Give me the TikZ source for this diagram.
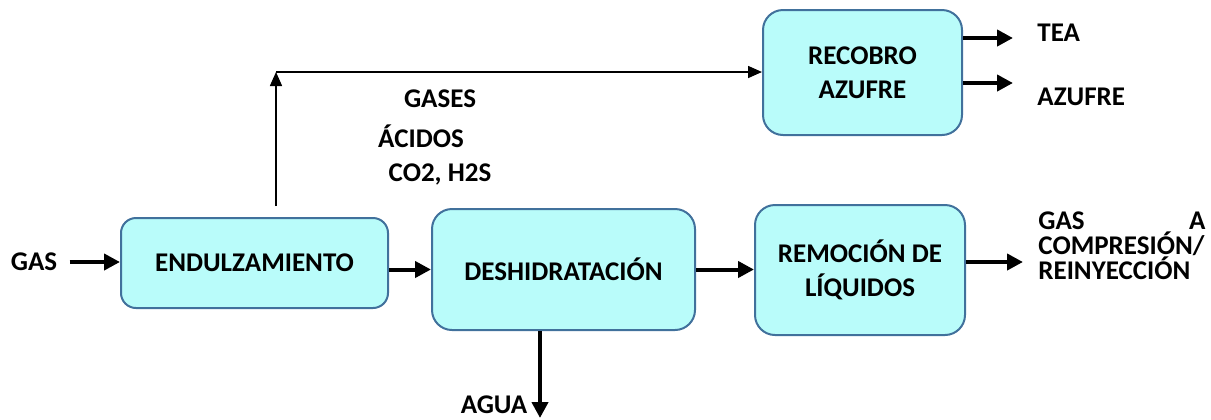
\documentclass[tikz,border=0pt]{standalone}
\usepackage{fontspec}
\setmainfont{Carlito}
\usetikzlibrary{arrows.meta,positioning}
\definecolor{boxfill}{RGB}{185,252,250}
\definecolor{boxline}{RGB}{65,113,156}
\tikzset{
  proc_box/.style = {draw=boxline, fill=boxfill, line width=1pt, rounded corners=10pt, align=center, inner sep=0pt, font=\bfseries\fontsize{13.5}{17}\selectfont},
  lbl/.style = {inner sep=0pt, font=\bfseries\fontsize{13.5}{17}\selectfont},
  flow_thick/.style = {line width=2pt, -{Triangle[length=8pt,width=8pt]}},
  flow_thin/.style = {line width=0.8pt, -{Triangle[length=7pt,width=6pt]}}
}

\begin{document}
\begin{tikzpicture}[x=0.5pt,y=-0.5pt]
\useasboundingbox (0,0) rectangle (1211,419);

% process units
\node [proc_box, rounded corners=7.5pt, minimum width=133.5pt, minimum height=45pt] (endul) at (254.5,263) {ENDULZAMIENTO};
\node [proc_box, minimum width=131.5pt, minimum height=60.5pt] (deshid) at (563.5,269.5) {DESHIDRATACIÓN};
\node [proc_box, minimum width=105pt, minimum height=65pt] (remocion) at (860,270) {REMOCIÓN DE\\LÍQUIDOS};
\node [proc_box, minimum width=99.5pt, minimum height=62.5pt] (recobro) at (862.5,72.5) {RECOBRO\\AZUFRE};

% stream labels
\node [lbl] (gas) at (34,262) {GAS};
\node [lbl] (gases) at (440,99) {GASES};
\node [lbl] (acidos) at (421,136) {ÁCIDOS};
\node [lbl] (co2) at (440,174) {CO2, H2S};
\node [lbl] (agua) at (494,405) {AGUA};
\node [lbl, anchor=west] (tea) at (1037,33) {TEA};
\node [lbl, anchor=west] (azufre) at (1037,97) {AZUFRE};
\node [lbl, anchor=west, text width=83.5pt, align=left, font=\bfseries\fontsize{13.5}{12.5}\selectfont] (gasout) at (1038,246) {GAS\hfill A\\COMPRESIÓN/\\REINYECCIÓN};

% free ends
\coordinate (split) at (276,206);
\coordinate (corner) at (276,72);
\coordinate (teaend) at (1013,38);
\coordinate (azuend) at (1013,83);
\coordinate (gasend) at (1023,262);
\coordinate (aguaend) at (540,418);

% streams
\draw [flow_thick] ([xshift=6pt]gas.east) -- (endul.west |- gas.east);
\draw [flow_thick] (endul.east |- deshid.west) -- (deshid.west);
\draw [flow_thick] (deshid.east) -- (remocion.west |- deshid.east);
\draw [flow_thick] (remocion.east |- gasend) -- (gasend);
\draw [flow_thick] (deshid.south -| aguaend) -- (aguaend);
\draw [flow_thick] (recobro.east |- teaend) -- (teaend);
\draw [flow_thick] (recobro.east |- azuend) -- (azuend);
\draw [flow_thin] (split) -- (corner);
\draw [flow_thin] (corner) -- (recobro.west |- corner);
\end{tikzpicture}
\end{document}
